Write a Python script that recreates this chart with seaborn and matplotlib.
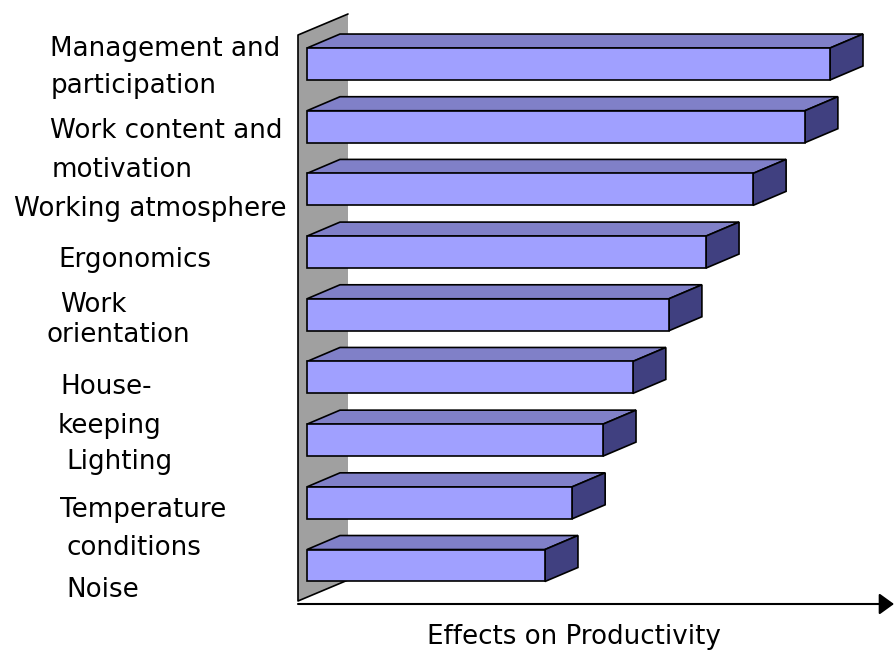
import matplotlib
matplotlib.use("Agg")
import matplotlib.pyplot as plt
from matplotlib.patches import Polygon
import seaborn as sns
import pandas as pd

# ---- data ----
factors = ["Management and participation", "Work content and motivation",
           "Working atmosphere", "Ergonomics", "Work orientation",
           "Housekeeping", "Lighting", "Temperature conditions", "Noise"]
values = [100.0, 95.2, 85.3, 76.3, 69.2, 62.3, 56.6, 50.7, 45.5]
label_lines = ["Management and", "participation", "Work content and", "motivation",
               "Working atmosphere", "Ergonomics", "Work", "orientation",
               "House-", "keeping", "Lighting", "Temperature", "conditions", "Noise"]
x_title = "Effects on Productivity"

# ---- style ----
FRONT = "#A0A0FF"
TOP = "#8080C8"
SIDE = "#404080"
WALL = "#A0A0A0"
W, H, DPI = 894, 652, 100

sns.set_style("white")
plt.rcParams["font.family"] = ["DejaVu Sans"]
plt.rcParams["text.color"] = "black"

fig = plt.figure(figsize=(W / DPI, H / DPI), dpi=DPI)
ax_left, ax_right, ax_top, ax_bot = 298, 894, 14, 604
ax = fig.add_axes([ax_left / W, 1 - ax_bot / H, (ax_right - ax_left) / W, (ax_bot - ax_top) / H])

df = pd.DataFrame({"factor": factors, "value": values})
sns.barplot(data=df, x="value", y="factor", orient="h", color=FRONT, saturation=1,
            edgecolor="black", linewidth=1.2, width=0.51, ax=ax, zorder=3)

xlim = (-1.72, 112.24)
ylim = (8.614, -0.798)
ax.set_xlim(*xlim)
ax.set_ylim(*ylim)
ax.set_xticks([])
ax.set_yticks([])
ax.set_xlabel("")
ax.set_ylabel("")
for s in ax.spines.values():
    s.set_visible(False)

# depth offsets (pixels -> data)
ax_w = ax_right - ax_left
ax_h = ax_bot - ax_top
dx = 33 * (xlim[1] - xlim[0]) / ax_w
dy = 14 * (ylim[0] - ylim[1]) / ax_h

for p in ax.patches[:len(values)]:
    x0, yt, w, h = p.get_x(), p.get_y(), p.get_width(), p.get_height()
    x1, yb = x0 + w, yt + h
    top = Polygon([(x0, yt), (x1, yt), (x1 + dx, yt - dy), (x0 + dx, yt - dy)],
                  closed=True, facecolor=TOP, edgecolor="black", linewidth=1.2, zorder=2.9)
    side = Polygon([(x1, yt), (x1, yb), (x1 + dx, yb - dy), (x1 + dx, yt - dy)],
                   closed=True, facecolor=SIDE, edgecolor="black", linewidth=1.2, zorder=2.9)
    ax.add_patch(top)
    ax.add_patch(side)

# back wall (axes fraction)
wx = 50 / ax_w
wall_pts = [(0, 3 / ax_h), (0, 569 / ax_h), (wx, 1.0), (wx, 24 / ax_h)]
ax.add_patch(Polygon(wall_pts, closed=True, facecolor=WALL, edgecolor="none",
                     transform=ax.transAxes, zorder=1, clip_on=False))
ax.plot([wall_pts[3][0], wall_pts[0][0], wall_pts[1][0], wall_pts[2][0]],
        [wall_pts[3][1], wall_pts[0][1], wall_pts[1][1], wall_pts[2][1]],
        color="black", lw=1.2, transform=ax.transAxes, zorder=1.5, clip_on=False)

# x axis arrow
ax.annotate("", xy=(1.0, 0), xytext=(0, 0), xycoords="axes fraction",
            arrowprops=dict(arrowstyle="-|>,head_length=0.9,head_width=0.65",
                            mutation_scale=10, color="black", lw=1.5,
                            shrinkA=0, shrinkB=0), annotation_clip=False)

# category labels
label_pos = [(50, 47), (51, 84), (50, 129), (52, 168), (14, 207), (58, 258),
             (60, 303), (46, 333), (60, 385), (58, 424), (66, 460), (60, 508),
             (67, 546), (66, 588)]
FS = 18.8
for txt, (px, py) in zip(label_lines, label_pos):
    fig.text(px / W, 1 - (py + 9) / H, txt, ha="left", va="baseline",
             fontsize=FS, color="black")

fig.text(574 / W, 1 - 644 / H, x_title, ha="center", va="baseline",
         fontsize=FS, color="black")

fig.savefig("out.png", dpi=DPI)
